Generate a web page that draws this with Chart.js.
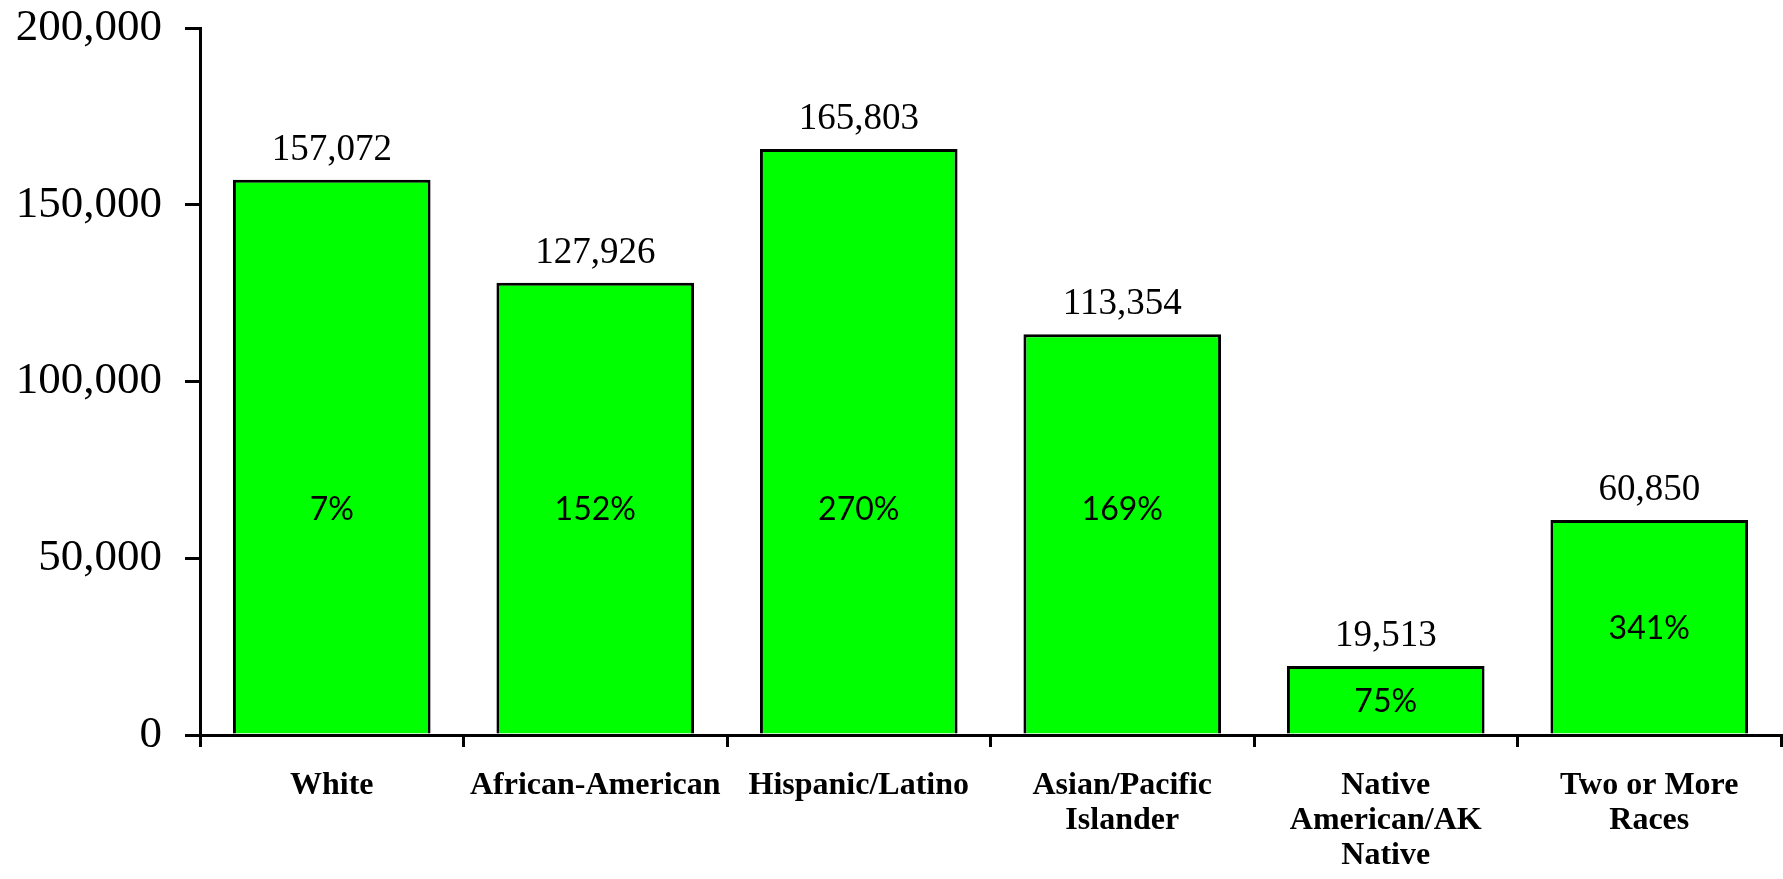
<!DOCTYPE html>
<html>
<head>
<meta charset="utf-8">
<script src="https://cdn.jsdelivr.net/npm/chart.js@4/dist/chart.umd.min.js"></script>
<style>
  html, body { margin: 0; padding: 0; background: #fff; }
  #chart { display: block; }
</style>
</head>
<body>
<canvas id="chart" width="1783" height="879"></canvas>
<script>
const categories = [
  "White",
  "African-American",
  "Hispanic/Latino",
  ["Asian/Pacific", "Islander"],
  ["Native", "American/AK", "Native"],
  ["Two or More", "Races"],
];
const counts = [157072, 127926, 165803, 113354, 19513, 60850];
const growth = ["7%", "152%", "270%", "169%", "75%", "341%"];
const yTicks = [0, 50000, 100000, 150000, 200000];

// percent labels sit on one common line in tall bars, mid-bar in short ones
const PCT_LEVEL = 64000;

const barLabels = {
  id: "barLabels",
  afterDatasetsDraw(chart) {
    const ctx = chart.ctx;
    const yScale = chart.scales.y;
    const meta = chart.getDatasetMeta(0);
    ctx.save();
    ctx.fillStyle = "#000";
    ctx.textAlign = "center";
    meta.data.forEach((bar, i) => {
      ctx.textBaseline = "alphabetic";
      ctx.font = "37px 'Liberation Serif'";
      ctx.fillText(counts[i].toLocaleString("en-US"), bar.x, bar.y - 20);

      const v = counts[i] > 100000 ? PCT_LEVEL : counts[i] / 2;
      ctx.textBaseline = "middle";
      ctx.font = "32px Lato";
      ctx.fillText(growth[i], bar.x, yScale.getPixelForValue(v) + 1);
    });
    ctx.restore();
  },
};

const chart = new Chart(document.getElementById("chart"), {
  type: "bar",
  data: {
    labels: categories,
    datasets: [
      {
        data: counts,
        backgroundColor: "#00ff00",
        borderColor: "#000",
        borderWidth: 3,
        borderSkipped: "bottom",
        categoryPercentage: 1,
        barPercentage: 0.75,
      },
    ],
  },
  options: {
    responsive: false,
    animation: false,
    layout: {
      padding: { top: 28, right: 2, bottom: 0, left: 0 },
    },
    plugins: {
      legend: { display: false },
      tooltip: { enabled: false },
    },
    scales: {
      x: {
        grid: {
          offset: true,
          drawOnChartArea: false,
          drawTicks: true,
          tickLength: 12,
          color: "#000",
          lineWidth: 3,
        },
        border: { display: true, color: "#000", width: 3 },
        ticks: {
          color: "#000",
          padding: 21,
          maxRotation: 0,
          autoSkip: false,
          font: { family: "'Liberation Serif'", size: 32, weight: "bold", lineHeight: 1.1 },
        },
        afterFit(scale) {
          scale.height = 144;
          scale.paddingLeft = 0;
          scale.paddingRight = 0;
        },
      },
      y: {
        min: 0,
        max: 200000,
        afterBuildTicks(scale) {
          scale.ticks = yTicks.map((v) => ({ value: v }));
        },
        grid: {
          drawOnChartArea: false,
          drawTicks: true,
          tickLength: 15,
          color: "#000",
          lineWidth: 3,
        },
        border: { display: true, color: "#000", width: 3 },
        ticks: {
          color: "#000",
          padding: 23,
          font: { family: "'Liberation Serif'", size: 45 },
          callback: (v) => Number(v).toLocaleString("en-US"),
        },
        afterFit(scale) {
          scale.width = 200;
          scale.paddingTop = 0;
          scale.paddingBottom = 0;
        },
      },
    },
  },
  plugins: [barLabels],
});
</script>
</body>
</html>
